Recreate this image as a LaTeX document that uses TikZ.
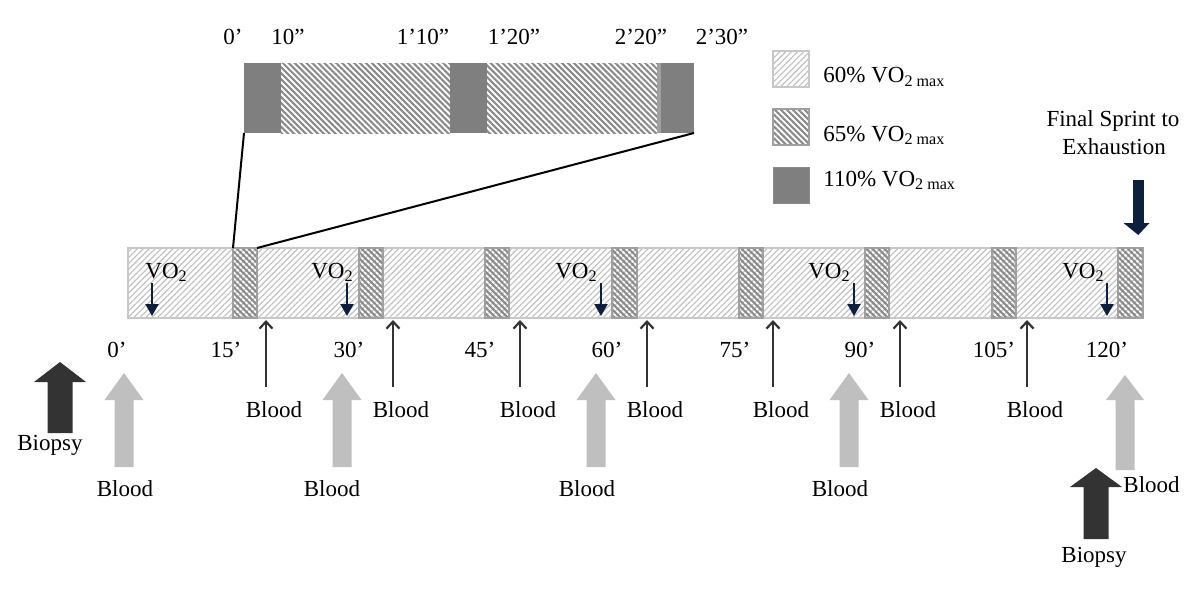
\documentclass[tikz,border=0pt]{standalone}
\usepackage{fontspec}
\setmainfont{Liberation Serif}
\usetikzlibrary{patterns.meta,arrows.meta}
\definecolor{navy}{HTML}{0D1F3C}
\definecolor{dgray}{HTML}{7F7F7F}
\definecolor{lgray}{HTML}{C8C8C8}
\definecolor{mgray}{HTML}{A0A0A0}
\definecolor{agray}{HTML}{BFBFBF}
\definecolor{bgray}{HTML}{333333}
\definecolor{hgray}{HTML}{8A8A8A}
\newcommand\blockup[7]{%
  \fill[#1] (#2,#3) -- ({#2+#6},#4) -- ({#2+#7},#4) -- ({#2+#7},#5) --
    ({#2-#7},#5) -- ({#2-#7},#4) -- ({#2-#6},#4) -- cycle;}
\begin{document}
\begin{tikzpicture}[x=0.5pt,y=-0.5pt,
  lbl/.style={inner sep=0pt, anchor=base, font=\fontsize{11.5}{13.8}\selectfont},
  lblw/.style={lbl, anchor=base west},
  lble/.style={lbl, anchor=base east},
  hatchlight/.style={pattern={Lines[angle=45,distance=2.1pt,line width=0.55pt]}, pattern color=agray},
  hatchdark/.style={pattern={Lines[angle=-45,distance=2.1pt,line width=1.05pt]}, pattern color=hgray},
  bar60/.style={draw=lgray, line width=1pt, hatchlight},
  bar65/.style={draw=mgray, line width=1.3pt, hatchdark},
  bloodarr/.style={draw=bgray, line width=1.1pt, -{Straight Barb[length=3.5pt,width=6.5pt]}},
  voarr/.style={draw=navy, line width=1.1pt, -{Triangle[length=6pt,width=6.5pt]}},
  zoomline/.style={draw=black, line width=1pt}
]
\useasboundingbox (0,0) rectangle (1200,594);

% ---------- inset bar ----------
\fill[dgray] (244,63) rectangle (694,133);
\fill[white] (281,63) rectangle (450,133);
\fill[hatchdark] (281,63) rectangle (450,133);
\fill[white] (487,63) rectangle (657,133);
\fill[hatchdark] (487,63) rectangle (657,133);
\fill[mgray] (657,63) rectangle (661,133);
\coordinate (insBL) at (244,133);
\coordinate (insBR) at (694,133);

\node[lbl] (i0) at (233,45) {0’};
\node[lbl] (i1) at (288,45) {10”};
\node[lbl] (i2) at (423,45) {1’10”};
\node[lbl] (i3) at (514,45) {1’20”};
\node[lbl] (i4) at (641,45) {2’20”};
\node[lbl] (i5) at (722,45) {2’30”};

% ---------- legend ----------
\draw[bar60] (773,51) rectangle (809,87);
\draw[bar65] (773,109) rectangle (809,145);
\draw[fill=dgray, draw=hgray, line width=0.5pt] (773,167) rectangle (809,203);
\node[lblw] (l1) at (823,83) {60\% VO\textsubscript{2 max}};
\node[lblw] (l2) at (823,141) {65\% VO\textsubscript{2 max}};
\node[lblw] (l3) at (823,186) {110\% VO\textsubscript{2 max}};

% ---------- main bar ----------
\draw[bar60] (128,248) rectangle (1143,318);
\foreach \s/\e in {233/257,359/383,485/509,612/637,739/763,865/889,992/1016,1118/1143}
  \draw[bar65] (\s,248) rectangle (\e,318);
\coordinate (b1TL) at (233,248);
\coordinate (b1TR) at (257,248);

% zoom lines
\draw[zoomline] (insBL) -- (b1TL);
\draw[zoomline] (insBR) -- (b1TR);

% VO2 labels and arrows
\node[lblw] (v1) at (145,278) {VO\textsubscript{2}};
\node[lble] (v2) at (354,278) {VO\textsubscript{2}};
\node[lble] (v3) at (598,278) {VO\textsubscript{2}};
\node[lble] (v4) at (851,278) {VO\textsubscript{2}};
\node[lble] (v5) at (1105,278) {VO\textsubscript{2}};
\foreach \x [count=\i] in {152,347,601,854,1107}{
  \coordinate (vs\i) at (\x,283);
  \coordinate (ve\i) at (\x,316);
  \draw[voarr] (vs\i) -- (ve\i);
}

% timeline labels
\foreach \x/\t [count=\i] in {117/0’,226/15’,349/30’,480/45’,607/60’,735/75’,860/90’,994/105’,1107/120’}
  \node[lbl] (t\i) at (\x,357) {\t};

% thin blood arrows
\foreach \x [count=\i] in {266,393,520,647,773,900,1027}{
  \coordinate (bs\i) at (\x,387);
  \coordinate (be\i) at (\x,320);
  \draw[bloodarr] (bs\i) -- (be\i);
  \node[lbl] (bl\i) at (\x+8,417) {Blood};
}

% big grey blood arrows
\blockup{agray}{124}{373}{400}{467}{19.5}{9.5}
\blockup{agray}{342}{373}{400}{467}{19.5}{9.5}
\blockup{agray}{596}{373}{400}{467}{19.5}{9.5}
\blockup{agray}{849}{373}{400}{467}{19.5}{9.5}
\blockup{agray}{1125}{375}{400}{470}{19}{9.5}
\node[lbl] (gb1) at (125,496) {Blood};
\node[lbl] (gb2) at (332,496) {Blood};
\node[lbl] (gb3) at (587,496) {Blood};
\node[lbl] (gb4) at (840,496) {Blood};
\node[lblw] (gb5) at (1123,492) {Blood};

% biopsy arrows
\blockup{bgray}{60}{362}{382}{433}{26}{12.5}
\blockup{bgray}{1096}{468}{487}{539}{26}{12.5}
\node[lbl] (bp1) at (50,450) {Biopsy};
\node[lbl] (bp2) at (1094,562) {Biopsy};

% final sprint
\fill[navy] (1132.5,180) rectangle (1144,224);
\fill[navy] (1123.5,223) -- (1149.5,223) -- (1138.3,235) -- cycle;
\node[lbl] (fs1) at (1113,126) {Final Sprint to};
\node[lbl] (fs2) at (1114,154) {Exhaustion};
\end{tikzpicture}
\end{document}
